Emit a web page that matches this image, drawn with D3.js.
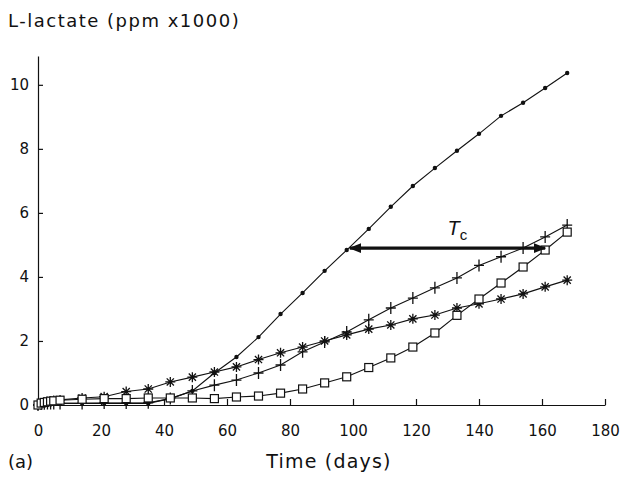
<!DOCTYPE html>
<html>
<head>
<meta charset="utf-8">
<script src="https://cdn.jsdelivr.net/npm/d3@7"></script>
<style>
  body { margin: 0; background: #fff; }
  text { font-family: "DejaVu Sans", sans-serif; fill: #111; }
  .axis path, .axis line { stroke: #111; stroke-width: 1.2; }
  .axis text { font-size: 15px; font-family: "DejaVu Sans", sans-serif; }
</style>
</head>
<body>
<script>
// L-lactate vs time, panel (a)

var days = [0, 1, 2, 3, 4, 5, 7, 14, 21, 28, 35, 42, 49, 56, 63, 70, 77, 84, 91, 98,
            105, 112, 119, 126, 133, 140, 147, 154, 161, 168];

var dotSeries = [0, 0.02, 0.03, 0.03, 0.04, 0.04, 0.05, 0.05, 0.05, 0.05, 0.05, 0.2, 0.44, 1.0, 1.5, 2.12,
                 2.84, 3.5, 4.19, 4.84, 5.5, 6.19, 6.84, 7.4, 7.94, 8.47, 9.03, 9.44, 9.9, 10.37];
var plusSeries = [0, 0.03, 0.04, 0.05, 0.05, 0.05, 0.05, 0.05, 0.06, 0.06, 0.07, 0.2, 0.44, 0.62, 0.78, 1.0,
                  1.25, 1.66, 1.97, 2.28, 2.66, 3.03, 3.34, 3.66, 3.97, 4.36, 4.63, 4.9, 5.25, 5.62];
var starSeries = [0, 0.05, 0.08, 0.1, 0.12, 0.14, 0.16, 0.22, 0.26, 0.42, 0.5, 0.72, 0.87, 1.03, 1.19, 1.42,
                  1.63, 1.81, 2.0, 2.19, 2.37, 2.5, 2.69, 2.81, 3.03, 3.16, 3.31, 3.47, 3.69, 3.9];
var squareSeries = [0, 0.06, 0.08, 0.1, 0.12, 0.13, 0.15, 0.18, 0.2, 0.2, 0.22, 0.22, 0.22, 0.2, 0.25, 0.28,
                    0.37, 0.5, 0.69, 0.88, 1.17, 1.47, 1.81, 2.25, 2.8, 3.31, 3.81, 4.31, 4.84, 5.4];

var xTicks = [0, 20, 40, 60, 80, 100, 120, 140, 160, 180];
var yTicks = [0, 2, 4, 6, 8, 10];

// Tc arrow: from day, to day, level
var tcArrow = [99, 161, 4.9];

var width = 622, height = 480;

var x = d3.scaleLinear().domain([0, 180]).range([38, 605]);
var y = d3.scaleLinear().domain([0, 10.9]).range([405, 56]);

var svg = d3.select("body").append("svg")
    .attr("width", width)
    .attr("height", height);

var defs = svg.append("defs");
defs.append("marker")
    .attr("id", "head")
    .attr("viewBox", "0 0 10 10")
    .attr("refX", 9).attr("refY", 5)
    .attr("markerWidth", 4).attr("markerHeight", 4)
    .attr("orient", "auto-start-reverse")
  .append("path")
    .attr("d", "M0,1L10,5L0,9Z")
    .attr("fill", "#111");

// axes
svg.append("g")
    .attr("class", "axis")
    .attr("transform", "translate(0," + y(0) + ")")
    .call(d3.axisBottom(x).tickValues(xTicks).tickSizeInner(-6).tickSizeOuter(0).tickPadding(20));

svg.append("g")
    .attr("class", "axis")
    .attr("transform", "translate(" + x(0) + ",0)")
    .call(d3.axisLeft(y).tickValues(yTicks).tickSizeInner(-5).tickSizeOuter(0).tickPadding(9));

svg.selectAll(".axis .domain").attr("fill", "none");

// lines
var line = d3.line()
    .x(function(d) { return x(d[0]); })
    .y(function(d) { return y(d[1]); });

function pairs(vals) {
  return days.map(function(d, i) { return [d, vals[i]]; });
}

var allSeries = [
  {key: "dot", vals: dotSeries},
  {key: "plus", vals: plusSeries},
  {key: "star", vals: starSeries},
  {key: "square", vals: squareSeries}
];

allSeries.forEach(function(s) {
  svg.append("path")
      .datum(pairs(s.vals))
      .attr("fill", "none")
      .attr("stroke", "#111")
      .attr("stroke-width", 1.1)
      .attr("d", line);
});

// markers
var markerPath = {
  plus: "M-5,0H5M0,-6V6",
  star: "M-5,0H5M0,-5V5M-3.6,-3.6L3.6,3.6M-3.6,3.6L3.6,-3.6"
};

allSeries.forEach(function(s) {
  var g = svg.append("g").attr("class", "marks-" + s.key);
  var pts = g.selectAll("g")
      .data(pairs(s.vals))
      .enter()
    .append("g")
      .attr("transform", function(d) { return "translate(" + x(d[0]) + "," + y(d[1]) + ")"; });
  if (s.key === "dot") {
    pts.append("circle").attr("r", 2.2).attr("fill", "#111");
  } else if (s.key === "square") {
    pts.append("rect")
        .attr("x", -4).attr("y", -4).attr("width", 8).attr("height", 8)
        .attr("fill", "#fff").attr("stroke", "#111").attr("stroke-width", 1.2);
  } else {
    pts.append("path")
        .attr("d", markerPath[s.key])
        .attr("stroke", "#111").attr("stroke-width", 1.3).attr("fill", "none");
  }
});

// Tc arrow
svg.append("line")
    .attr("x1", x(tcArrow[0])).attr("x2", x(tcArrow[1]))
    .attr("y1", y(tcArrow[2])).attr("y2", y(tcArrow[2]))
    .attr("stroke", "#111")
    .attr("stroke-width", 3.2)
    .attr("marker-start", "url(#head)")
    .attr("marker-end", "url(#head)");

var tc = svg.append("text")
    .attr("x", x(130))
    .attr("y", y(tcArrow[2]) - 13)
    .style("font-family", "'Liberation Sans', Arial, sans-serif")
    .style("font-size", "20px");
tc.append("tspan").style("font-style", "italic").text("T");
tc.append("tspan").attr("dy", 5).style("font-size", "15px").text("c");

// titles
svg.append("text")
    .attr("x", 8).attr("y", 27)
    .style("font-size", "18px")
    .style("letter-spacing", "1.5px")
    .text("L-lactate (ppm x1000)");

svg.append("text")
    .attr("x", 329).attr("y", 468)
    .attr("text-anchor", "middle")
    .style("font-size", "19px")
    .style("letter-spacing", "1.2px")
    .text("Time (days)");

svg.append("text")
    .attr("x", 8).attr("y", 468)
    .style("font-size", "18px")
    .text("(a)");
</script>
</body>
</html>
